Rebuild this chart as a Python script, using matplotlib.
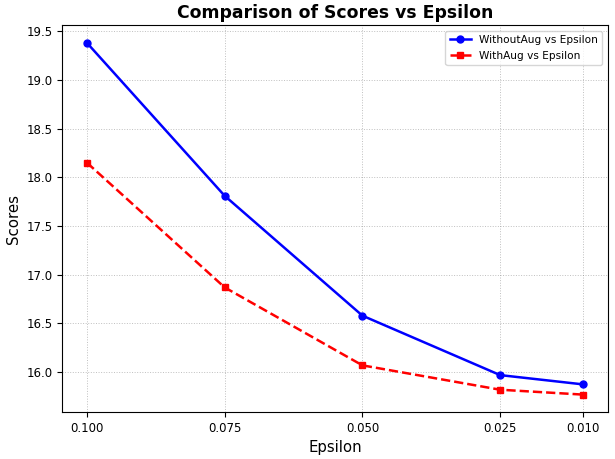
import matplotlib
matplotlib.use('Agg')
import matplotlib.pyplot as plt

epsilon = [0.100, 0.075, 0.050, 0.025, 0.010]
without_aug = [19.38, 17.81, 16.58, 15.97, 15.875]
with_aug = [18.15, 16.87, 16.07, 15.82, 15.77]
tick_labels = ['0.100', '0.075', '0.050', '0.025', '0.010']

fig, ax = plt.subplots(figsize=(6.15, 4.59), dpi=100)
fig.subplots_adjust(left=0.101, right=0.988, top=0.945, bottom=0.102)

ax.plot(epsilon, without_aug, 'o-', color='blue', lw=1.8, ms=5,
        label='WithoutAug vs Epsilon')
ax.plot(epsilon, with_aug, 's--', color='red', lw=1.8, ms=5,
        label='WithAug vs Epsilon')

ax.set_xticks(epsilon)
ax.set_xticklabels(tick_labels)
ax.invert_xaxis()
ax.tick_params(labelsize=8.5)

ax.set_xlabel('Epsilon', fontsize=10.7)
ax.set_ylabel('Scores', fontsize=10.8)
ax.set_title('Comparison of Scores vs Epsilon', fontsize=12.4, fontweight='bold', pad=5)
ax.grid(True, linestyle=':', color='gray', alpha=0.5, lw=0.7)
ax.legend(fontsize=7.6, loc='upper right', labelspacing=0.6)

fig.savefig('out.png', dpi=100)
